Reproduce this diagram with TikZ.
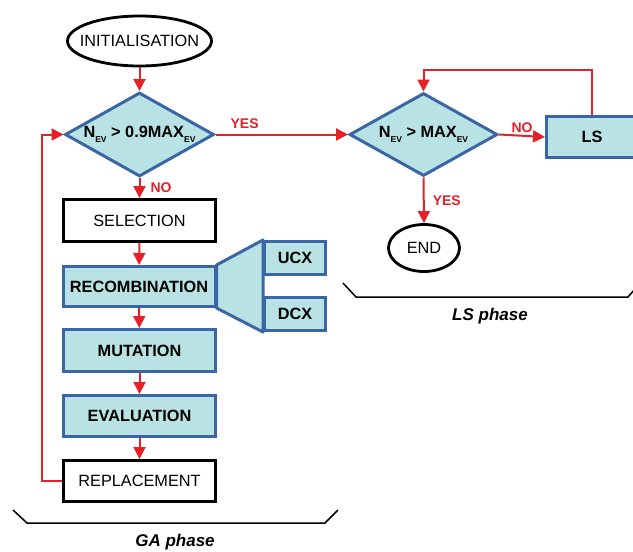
\documentclass[tikz,border=0pt]{standalone}
\usepackage{fontspec}
\setmainfont{Liberation Sans}
\usetikzlibrary{arrows.meta,positioning,calc,shapes.geometric}

\definecolor{gafill}{RGB}{184,226,228}
\definecolor{gaborder}{RGB}{58,102,166}
\definecolor{flowred}{RGB}{228,32,40}

\newcommand{\evsub}{\raisebox{-4.5pt}{\fontsize{8.5}{8.5}\selectfont EV}}

\tikzset{
  terminal/.style={ellipse, draw=black, fill=white, line width=2.8pt, inner xsep=-12pt, font=\fontsize{16.3}{16.3}\selectfont},
  decision/.style={diamond, aspect=1.78, draw=gaborder, fill=gafill, line width=3pt, inner sep=0pt, font=\fontsize{16.3}{16.3}\selectfont\bfseries},
  process/.style={rectangle, draw=gaborder, fill=gafill, line width=3pt, font=\fontsize{16.3}{16.3}\selectfont\bfseries},
  plainbox/.style={rectangle, draw=black, fill=white, line width=3pt, font=\fontsize{16.3}{16.3}\selectfont},
  flow/.style={draw=flowred, line width=2pt, -{Triangle[length=12pt,width=12pt]}},
  lbl/.style={text=flowred, font=\fontsize{14}{14}\selectfont\bfseries, inner sep=1pt},
  brace/.style={draw=black, line width=1.5pt},
  phase/.style={font=\fontsize{17}{17}\selectfont\bfseries\itshape}
}

\begin{document}
\begin{tikzpicture}[x=1pt,y=-1pt]
    \useasboundingbox (0,0) rectangle (633,552);

    % GA phase
    \node[terminal, minimum width=144pt, minimum height=50pt] (init) at (139.5,41) {INITIALISATION};
    \node[decision, minimum width=149pt, minimum height=84pt] (dec1) at (139.5,134.5) {N\evsub{} > 0.9MAX\evsub};
    \node[plainbox, minimum width=152pt, minimum height=42pt] (sel) at (139.5,220.5) {SELECTION};
    \node[process, minimum width=152pt, minimum height=40pt] (rec) at (139,286.5) {RECOMBINATION};
    \node[process, minimum width=61pt, minimum height=33pt] (ucx) at (295,258) {UCX};
    \node[process, minimum width=61pt, minimum height=33pt] (dcx) at (295,314) {DCX};
    \node[process, minimum width=152pt, minimum height=42pt] (mut) at (139.5,350.5) {MUTATION};
    \node[process, minimum width=152pt, minimum height=41pt] (eva) at (139.5,416) {EVALUATION};
    \node[plainbox, minimum width=152pt, minimum height=41pt] (rep) at (139.5,481) {REPLACEMENT};

    % crossover operators
    \draw[gaborder, fill=gafill, line width=3pt, line join=round]
        (rec.north east) -- (ucx.north west) -- (dcx.south west) -- (rec.south east) -- cycle;

    % LS phase
    \node[decision, minimum width=148pt, minimum height=83pt] (dec2) at (423.5,134.5) {N\evsub{} > MAX\evsub};
    \node[process, minimum width=91pt, minimum height=41pt] (ls) at (592,137) {LS};
    \node[terminal, minimum width=71pt, minimum height=47pt] (end) at (424,248) {END};
    \coordinate (lstop) at (423.5,70);

    % flow
    \draw[flow] (init) -- (dec1);
    \draw[flow] (dec1) -- node[lbl, right=9pt] {NO} (sel);
    \draw[flow] (sel) -- (rec);
    \draw[flow] (rec) -- (mut);
    \draw[flow] (mut) -- (eva);
    \draw[flow] (eva) -- (rep);
    \draw[flow] (rep.west) -- ++(-20,0) |- (dec1.west);
    \draw[flow] (dec1.east) -- node[lbl, above=4pt, pos=0.22] {YES} (dec2.west);
    \draw[flow] (dec2.east) -- node[lbl, above=1pt] {NO} (ls.west);
    \draw[flow] (ls.north) |- (lstop) -- (dec2.north);
    \draw[flow] (dec2.south) -- node[lbl, right=7pt] {YES} (end.north);

    % phase braces
    \draw[brace] (13,510) -- (27,523) -- (325,523) -- (338,510);
    \node[phase] (gaph) at (175,542) {GA phase};
    \draw[brace] (343,283) -- (356,297) -- (628,297) -- (635,289);
    \node[phase] (lsph) at (490,316) {LS phase};
\end{tikzpicture}
\end{document}
